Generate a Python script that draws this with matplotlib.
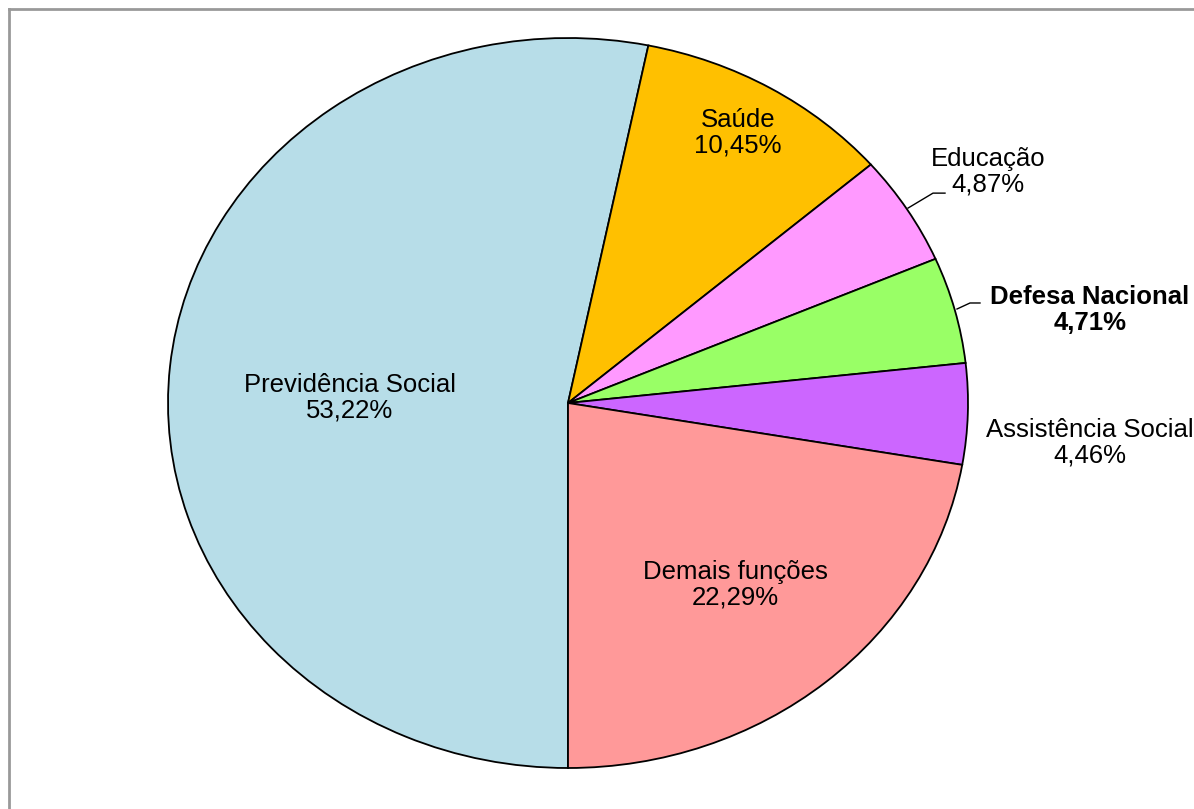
import matplotlib.pyplot as plt
from matplotlib.lines import Line2D

plt.rcParams['font.family'] = ['Liberation Sans', 'DejaVu Sans']

labels = ["Previdência Social", "Saúde", "Educação", "Defesa Nacional",
          "Assistência Social", "Demais funções"]
values = [53.22, 10.45, 4.87, 4.71, 4.46, 22.29]
colors = ["#B7DDE8", "#FFC000", "#FF99FF", "#99FF66", "#CC66FF", "#FF9999"]

# label positions (axes data coords, ellipse radius = 1)
label_pos = [(-0.545, 0.014), (0.425, 0.74), (1.05, 0.633), (1.305, 0.255),
             (1.305, -0.11), (0.4175, -0.499)]

fig = plt.figure(figsize=(11.94, 8.09), dpi=100)
ax = fig.add_axes([168 / 1194, 41 / 809, 800 / 1194, 730 / 809])

ax.pie(values, colors=colors, startangle=-90, counterclock=False,
       wedgeprops=dict(edgecolor="black", linewidth=1.3))
ax.set_aspect("auto")
ax.set_xlim(-1, 1)
ax.set_ylim(-1, 1)
ax.axis("off")

for lab, val, (x, y) in zip(labels, values, label_pos):
    txt = lab + "\n" + f"{val:.2f}".replace(".", ",") + "%"
    weight = "bold" if lab == "Defesa Nacional" else "normal"
    ax.text(x, y, txt, ha="center", va="center", fontsize=18.5,
            fontweight=weight, linespacing=1.08)

# leader lines
ax.plot([0.85, 0.9125, 0.9425], [0.534, 0.575, 0.575], color="black", lw=1, clip_on=False)
ax.plot([0.9725, 1.005, 1.03], [0.2575, 0.274, 0.274], color="black", lw=1, clip_on=False)

# chart area border (top and left visible)
fig.add_artist(Line2D([9 / 1194, 1], [1 - 9 / 809, 1 - 9 / 809], color="#999999", lw=2))
fig.add_artist(Line2D([9 / 1194, 9 / 1194], [0, 1 - 9 / 809], color="#999999", lw=2))

fig.savefig("out.png", dpi=100)
